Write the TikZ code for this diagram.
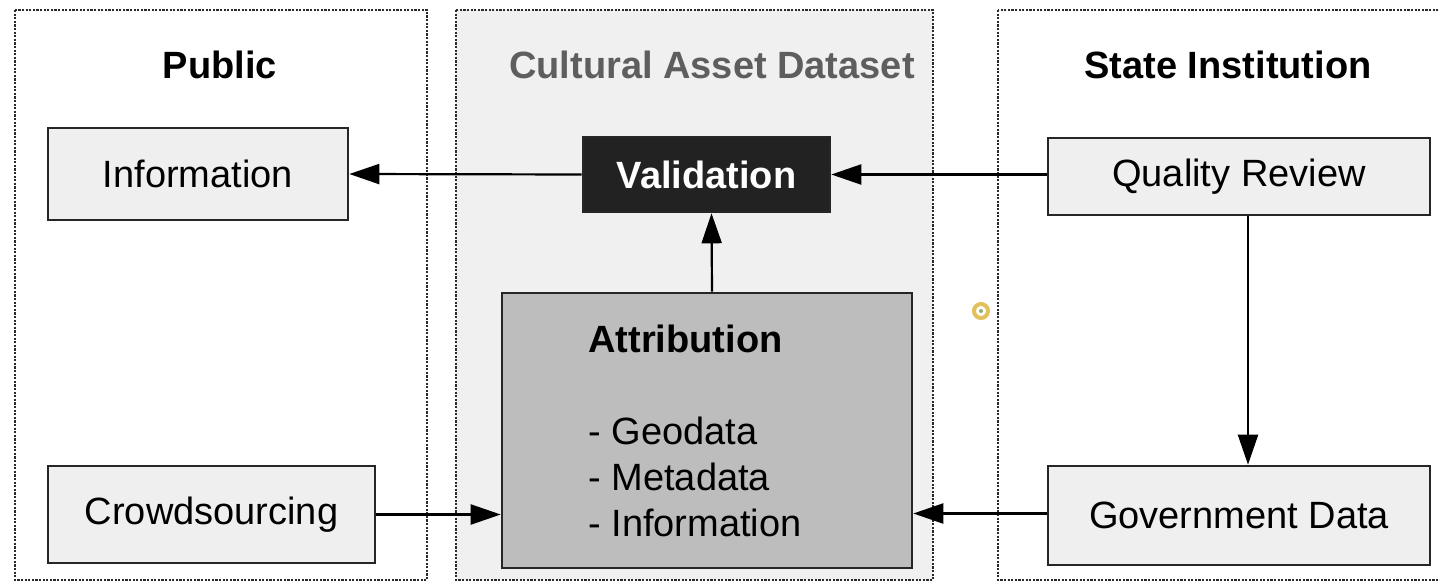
\documentclass[tikz,border=0pt]{standalone}
\usepackage{fontspec}
\setmainfont{Liberation Sans}
\usetikzlibrary{arrows.meta,calc}
\definecolor{panelgray}{HTML}{F0F0F0}
\definecolor{boxgray}{HTML}{EFEFEF}
\definecolor{attrgray}{HTML}{BDBDBD}
\definecolor{valblack}{HTML}{222222}
\definecolor{titlegray}{HTML}{5E5E5E}
\definecolor{dotcol}{HTML}{2A2A2A}
\definecolor{ringyellow}{HTML}{E2C15A}
\definecolor{dotgreen}{HTML}{8FB06A}
\tikzset{
  panel/.style={draw=dotcol, line width=1.2pt, dash pattern=on 1.1pt off 0.7pt},
  paneltitle/.style={font=\fontsize{19pt}{23pt}\selectfont\bfseries, inner sep=0pt},
  box/.style={draw=black!85, line width=1.3pt, fill=boxgray, inner sep=0pt,
    font=\fontsize{19pt}{23pt}\selectfont},
  arr/.style={line width=1.1pt, -{Triangle[length=15pt,width=10pt]}},
}
\begin{document}
\begin{tikzpicture}[x=0.5pt,y=-0.5pt]
\clip (0,0) rectangle (1440,583);
\fill[white] (0,0) rectangle (1440,583);
% panels
\draw[panel] (15,10) rectangle (427,580);
\draw[panel, fill=panelgray] (456,10) rectangle (933,580);
\draw[panel] (998,10) rectangle (1460,580);
\node[paneltitle] (tpub) at (220,65) {Public};
\node[paneltitle, text=titlegray] (tcad) at (712,65) {Cultural Asset Dataset};
\node[paneltitle] (tstate) at (1228,65) {State Institution};
% boxes
\node[box, minimum width=150pt, minimum height=46pt] (info) at (198,174) {Information};
\node[box, fill=valblack, text=white, font=\fontsize{19pt}{23pt}\selectfont\bfseries,
      minimum width=123.5pt, minimum height=37.5pt] (val) at (706.5,174.5) {Validation};
\node[box, minimum width=191pt, minimum height=38.5pt] (qr) at (1239,176.5) {Quality Review};
\node[box, fill=attrgray, minimum width=205pt, minimum height=137.5pt] (attr) at (707,430.5) {};
\node[anchor=west, align=left, inner sep=0pt, font=\fontsize{19pt}{23pt}\selectfont] (attrtext) at (588,431)
  {\textbf{Attribution}\\[23pt]- Geodata\\- Metadata\\- Information};
\node[box, minimum width=163.5pt, minimum height=48.5pt] (crowd) at (211.5,514.5) {Crowdsourcing};
\node[box, minimum width=191pt, minimum height=49.5pt] (gov) at (1239,515.5) {Government Data};
% connectors
\draw[arr] (val.west) -- (info.east);
\draw[arr] (qr.west |- val.east) -- (val.east);
\draw[arr] ([xshift=2.5pt]attr.north) -- ([xshift=2.5pt]val.south);
\draw[arr] ([xshift=4.5pt]qr.south) -- ([xshift=4.5pt]gov.north);
\draw[arr] (crowd.east) -- (crowd.east -| attr.west);
\draw[arr] ([yshift=1pt]gov.west) -- ([yshift=1pt]gov.west -| attr.east);
% small marker
\node[circle, draw=ringyellow, line width=2pt, fill=white, minimum size=7pt, inner sep=0pt] (mark) at (981,311) {};
\node[circle, fill=dotgreen, minimum size=2pt, inner sep=0pt] (markdot) at (mark.center) {};
\end{tikzpicture}
\end{document}
